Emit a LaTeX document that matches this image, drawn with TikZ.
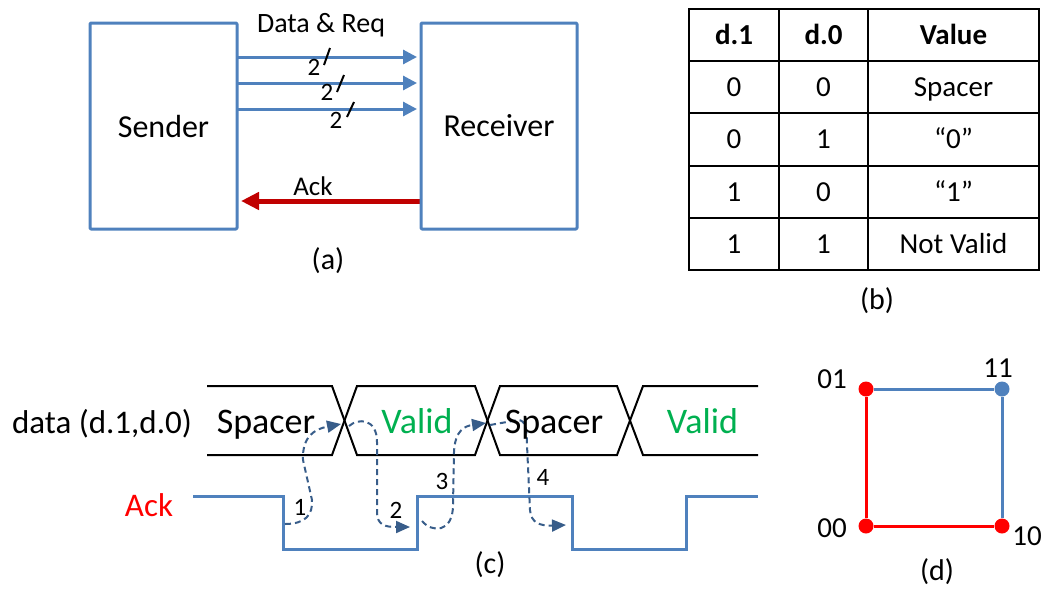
\documentclass[tikz,border=0pt]{standalone}
\usepackage{fontspec}
\setmainfont{Carlito}
\usepackage{xcolor}
\usepackage{tikz}
\usetikzlibrary{arrows.meta}
\usetikzlibrary{positioning,backgrounds}
\pgfdeclarelayer{edgelayer}
\pgfdeclarelayer{nodelayer}
\pgfsetlayers{background,edgelayer,nodelayer,main}
\definecolor{boxblue}{RGB}{79,129,189}
\definecolor{ackred}{RGB}{192,0,0}
\definecolor{validgreen}{RGB}{0,176,80}
\definecolor{hopblue}{RGB}{56,93,138}
\newcommand{\fsz}[1]{\fontsize{#1}{#1}\selectfont}
\tikzstyle{none}=[inner sep=0mm]
\tikzstyle{txt}=[inner sep=0mm,anchor=base,font=\fsz{27}]
\tikzstyle{cell}=[inner sep=0mm,anchor=base,font=\fsz{29}]
\tikzstyle{caption}=[inner sep=0mm,font=\fsz{30}]
\tikzstyle{blk}=[rectangle,draw=boxblue,line width=3pt,line join=round,rounded corners=1pt,font=\fsz{32}]
\tikzstyle{bus}=[draw=boxblue,line width=3pt,-{Triangle[length=14pt,width=14pt]}]
\tikzstyle{ackarrow}=[draw=ackred,line width=5pt,-{Triangle[length=18pt,width=17pt]}]
\tikzstyle{slash}=[draw=black,line width=2pt]
\tikzstyle{grid}=[draw=black,line width=2pt]
\tikzstyle{wave}=[draw=black,line width=2pt,line join=miter]
\tikzstyle{ackwave}=[draw=boxblue,line width=3pt]
\tikzstyle{hop}=[draw=hopblue,line width=2pt,dash pattern=on 6pt off 4pt,-{Triangle[length=14pt,width=12pt]}]
\tikzstyle{rdot}=[circle,fill=red,inner sep=0pt,minimum size=15pt]
\tikzstyle{bdot}=[circle,fill=boxblue,inner sep=0pt,minimum size=15pt]
\tikzstyle{redge}=[draw=red,line width=3pt]
\tikzstyle{bedge}=[draw=boxblue,line width=3pt]
\tikzset{
	head/.style={cell,font=\fsz{29}\bfseries},
	big/.style={txt,font=\fsz{36}},
	num/.style={txt,font=\fsz{25}}
}
\begin{document}
\begin{tikzpicture}[x=10pt,y=-10pt]
	\useasboundingbox (0,0) rectangle (104.1,59.0);
	\begin{pgfonlayer}{nodelayer}
		% (a) sender / receiver
		\node [style=blk, minimum width=147pt, minimum height=206pt] (0) at (16.35, 12.6) {Sender};
		\node [style=blk, minimum width=156pt, minimum height=206pt] (1) at (49.9, 12.6) {Receiver};
		\node [style=none] (2) at (23.7, 5.7) {};
		\node [style=none] (3) at (41.7, 5.7) {};
		\node [style=none] (4) at (23.7, 8.3) {};
		\node [style=none] (5) at (41.7, 8.3) {};
		\node [style=none] (6) at (23.7, 10.9) {};
		\node [style=none] (7) at (41.7, 10.9) {};
		\node [style=none] (8) at (33.0, 4.8) {};
		\node [style=none] (9) at (32.4, 6.5) {};
		\node [style=none] (10) at (34.4, 7.5) {};
		\node [style=none] (11) at (33.7, 9.2) {};
		\node [style=none] (12) at (35.4, 10.2) {};
		\node [style=none] (13) at (34.7, 11.7) {};
		\node [style=num] (14) at (31.4, 7.5) {2};
		\node [style=num] (15) at (32.7, 10.0) {2};
		\node [style=num] (16) at (33.6, 12.8) {2};
		\node [style=txt, font=\fsz{28}] (17) at (32.1, 3.25) {Data \& Req};
		\node [style=none] (18) at (42.0, 20.1) {};
		\node [style=none] (19) at (24.1, 20.1) {};
		\node [style=txt] (20) at (31.3, 19.5) {Ack};
		\node [style=caption] (21) at (32.8, 26.1) {(a)};
		% (b) table
		\node [style=head] (22) at (73.4, 4.4) {d.1};
		\node [style=head] (23) at (82.35, 4.4) {d.0};
		\node [style=head] (24) at (95.35, 4.4) {Value};
		\node [style=cell] (25) at (73.4, 9.6) {0};
		\node [style=cell] (26) at (82.35, 9.6) {0};
		\node [style=cell] (27) at (95.35, 9.6) {Spacer};
		\node [style=cell] (28) at (73.4, 14.85) {0};
		\node [style=cell] (29) at (82.35, 14.85) {1};
		\node [style=cell] (30) at (95.35, 14.85) {“0”};
		\node [style=cell] (31) at (73.4, 20.1) {1};
		\node [style=cell] (32) at (82.35, 20.1) {0};
		\node [style=cell] (33) at (95.35, 20.1) {“1”};
		\node [style=cell] (34) at (73.4, 25.3) {1};
		\node [style=cell] (35) at (82.35, 25.3) {1};
		\node [style=cell] (36) at (95.35, 25.3) {Not Valid};
		\node [style=caption] (37) at (87.7, 30.1) {(b)};
		% (c) timing
		\node [style=txt, font=\fsz{33}] (38) at (10.2, 43.3) {data (d.1,d.0)};
		\node [style=txt, font=\fsz{33}, text=red] (39) at (14.9, 51.6) {Ack};
		\node [style=big] (40) at (26.6, 43.3) {Spacer};
		\node [style=big, text=validgreen] (41) at (41.7, 43.3) {Valid};
		\node [style=big] (42) at (55.4, 43.3) {Spacer};
		\node [style=big, text=validgreen] (43) at (70.25, 43.3) {Valid};
		\node [style=none] (44) at (28.5, 52.4) {};
		\node [style=none] (45) at (34.1, 42.4) {};
		\node [style=none] (46) at (34.9, 42.6) {};
		\node [style=none] (47) at (41.0, 52.7) {};
		\node [style=none] (48) at (42.2, 52.1) {};
		\node [style=none] (49) at (48.6, 42.3) {};
		\node [style=none] (50) at (49.0, 42.5) {};
		\node [style=none] (51) at (56.6, 52.5) {};
		\node [style=num] (52) at (30.0, 51.5) {1};
		\node [style=num] (53) at (39.6, 51.8) {2};
		\node [style=num] (54) at (44.2, 48.9) {3};
		\node [style=num] (55) at (54.3, 48.5) {4};
		\node [style=caption] (56) at (49.0, 56.5) {(c)};
		% (d) states
		\node [style=rdot] (57) at (86.6, 38.9) {};
		\node [style=bdot] (58) at (100.2, 38.9) {};
		\node [style=rdot] (59) at (86.6, 52.6) {};
		\node [style=rdot] (60) at (100.2, 52.6) {};
		\node [style=txt, font=\fsz{29}] (61) at (83.2, 38.8) {01};
		\node [style=txt, font=\fsz{29}] (62) at (99.8, 37.7) {11};
		\node [style=txt, font=\fsz{29}] (63) at (83.2, 53.7) {00};
		\node [style=txt, font=\fsz{29}] (64) at (102.7, 54.5) {10};
		\node [style=caption] (65) at (93.7, 57.2) {(d)};
	\end{pgfonlayer}
	\begin{pgfonlayer}{edgelayer}
		\draw [style=bus] (2.center) to (3.center);
		\draw [style=bus] (4.center) to (5.center);
		\draw [style=bus] (6.center) to (7.center);
		\draw [style=slash] (8.center) to (9.center);
		\draw [style=slash] (10.center) to (11.center);
		\draw [style=slash] (12.center) to (13.center);
		\draw [style=ackarrow] (18.center) to (19.center);
		\draw [style=grid] (68.9, 0.9) rectangle (103.9, 27.0);
		\draw [style=grid] (68.9, 6.1) -- (103.9, 6.1);
		\draw [style=grid] (68.9, 11.3) -- (103.9, 11.3);
		\draw [style=grid] (68.9, 16.6) -- (103.9, 16.6);
		\draw [style=grid] (68.9, 21.8) -- (103.9, 21.8);
		\draw [style=grid] (77.9, 0.9) -- (77.9, 27.0);
		\draw [style=grid] (86.8, 0.9) -- (86.8, 27.0);
		\draw [style=wave] (20.7, 38.6) -- (33.2, 38.6) -- (35.7, 45.5) -- (47.5, 45.5) -- (50.0, 38.6) -- (61.7, 38.6) -- (64.3, 45.5) -- (75.8, 45.5);
		\draw [style=wave] (20.7, 45.5) -- (33.2, 45.5) -- (35.7, 38.6) -- (47.5, 38.6) -- (50.0, 45.5) -- (61.7, 45.5) -- (64.3, 38.6) -- (75.8, 38.6);
		\draw [style=ackwave] (19.3, 49.6) -- (28.3, 49.6) -- (28.3, 54.9) -- (41.7, 54.9) -- (41.7, 49.6) -- (57.2, 49.6) -- (57.2, 54.9) -- (68.6, 54.9) -- (68.6, 49.6) -- (75.8, 49.6);
		\draw [style=hop] (44.center) .. controls (30.5, 52.4) and (31.3, 51.5) .. (31.2, 50.0) -- (30.3, 46.0) .. controls (30.2, 43.6) and (31.5, 42.9) .. (45.center);
		\draw [style=hop] (46.center) .. controls (35.8, 41.8) and (37.7, 41.8) .. (37.7, 44.2) -- (37.7, 51.2) .. controls (37.7, 52.5) and (38.5, 52.7) .. (47.center);
		\draw [style=hop] (48.center) .. controls (43.2, 53.3) and (45.3, 53.3) .. (45.3, 50.5) -- (45.4, 45.2) .. controls (45.5, 43.0) and (46.5, 42.6) .. (49.center);
		\draw [style=hop] (50.center) -- (51.8, 42.0) .. controls (52.6, 42.0) and (52.7, 43.0) .. (52.7, 44.5) -- (53.0, 51.0) .. controls (53.1, 52.3) and (54.0, 52.6) .. (51.center);
		\draw [style=bedge] (57) to (58);
		\draw [style=bedge] (58) to (60);
		\draw [style=redge] (57) to (59);
		\draw [style=redge] (59) to (60);
	\end{pgfonlayer}
\end{tikzpicture}
\end{document}
